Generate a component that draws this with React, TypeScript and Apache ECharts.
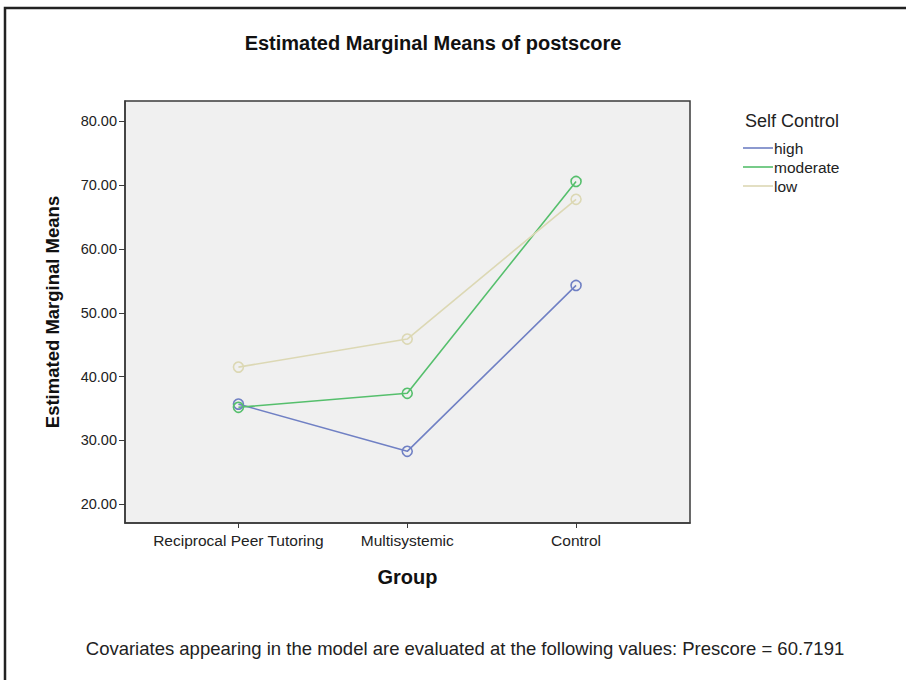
import React, { useEffect, useRef } from "react";
import * as echarts from "echarts";

const categories = ["Reciprocal Peer Tutoring", "Multisystemic", "Control"];
const seriesNames = ["high", "moderate", "low"];
const highValues = [35.7, 28.3, 54.3];
const moderateValues = [35.2, 37.4, 70.6];
const lowValues = [41.5, 45.9, 67.8];
const yTicks = [20, 30, 40, 50, 60, 70, 80];
const colors = ["#7080c4", "#55bf6c", "#dcd8b4"];

export default function App() {
  const ref = useRef<HTMLDivElement>(null);
  useEffect(() => {
    if (!ref.current) return;
    const chart = echarts.init(ref.current, undefined, { renderer: "svg" });
    const font = "Liberation Sans, Arial, sans-serif";
    const all = [highValues, moderateValues, lowValues];
    chart.setOption({
      animation: false,
      backgroundColor: "#ffffff",
      textStyle: { fontFamily: font },
      grid: {
        left: 125,
        top: 101,
        right: 216,
        bottom: 157,
        show: true,
        backgroundColor: "#f0f0f0",
        borderColor: "#3a3a3a",
        borderWidth: 1.5,
      },
      xAxis: {
        type: "value",
        min: -0.672,
        max: 2.675,
        splitLine: { show: false },
        axisLine: { show: true, onZero: false, lineStyle: { color: "#3a3a3a", width: 1.5 } },
        axisTick: { show: true, customValues: [0, 1, 2], length: 5, lineStyle: { color: "#3a3a3a" } },
        axisLabel: {
          customValues: [0, 1, 2],
          formatter: (v: number) => categories[Math.round(v)] ?? "",
          color: "#222",
          fontSize: 15.5,
          fontFamily: font,
          margin: 9,
        },
        name: "Group",
        nameLocation: "middle",
        nameGap: 44,
        nameTextStyle: { fontSize: 20, fontWeight: "bold", color: "#111", fontFamily: font },
      },
      yAxis: {
        type: "value",
        min: 17.07,
        max: 83.2,
        splitLine: { show: false },
        axisLine: { show: true, onZero: false, lineStyle: { color: "#3a3a3a", width: 1.5 } },
        axisTick: { show: true, customValues: yTicks, length: 6, lineStyle: { color: "#3a3a3a" } },
        axisLabel: {
          customValues: yTicks,
          formatter: (v: number) => v.toFixed(2),
          color: "#222",
          fontSize: 14.5,
          fontFamily: font,
          margin: 8,
        },
        name: "Estimated Marginal Means",
        nameLocation: "middle",
        nameGap: 63,
        nameRotate: 90,
        nameTextStyle: { fontSize: 18.5, fontWeight: "bold", color: "#111", fontFamily: font },
      },
      legend: {
        orient: "vertical",
        left: 738,
        top: 135,
        itemWidth: 30,
        itemHeight: 1.6,
        itemGap: 3,
        icon: "rect",
        textStyle: { fontSize: 15.5, color: "#222", fontFamily: font, padding: [0, 0, 0, -4] },
        data: seriesNames.map((n, i) => ({
          name: n,
          itemStyle: { color: colors[i], borderWidth: 0, borderColor: "rgba(0,0,0,0)" },
        })),
      },
      graphic: [
        {
          type: "rect",
          shape: { x: 5, y: 8, width: 960, height: 720 },
          style: { fill: "none", stroke: "#222", lineWidth: 2.5 },
          silent: true,
        },
        {
          type: "text",
          x: 433,
          y: 43,
          style: {
            text: "Estimated Marginal Means of postscore",
            font: "bold 20px Liberation Sans, Arial, sans-serif",
            fill: "#111",
            textAlign: "center",
            textVerticalAlign: "middle",
          },
        },
        {
          type: "text",
          x: 745,
          y: 121,
          style: {
            text: "Self Control",
            font: "18px Liberation Sans, Arial, sans-serif",
            fill: "#222",
            textAlign: "left",
            textVerticalAlign: "middle",
          },
        },
        {
          type: "text",
          x: 465,
          y: 648,
          style: {
            text: "Covariates appearing in the model are evaluated at the following values: Prescore = 60.7191",
            font: "18.5px Liberation Sans, Arial, sans-serif",
            fill: "#222",
            textAlign: "center",
            textVerticalAlign: "middle",
          },
        },
      ],
      series: seriesNames.map((n, i) => ({
        name: n,
        type: "line",
        data: all[i].map((v, j) => [j, v]),
        symbol: "circle",
        symbolSize: 10,
        color: colors[i],
        lineStyle: { color: colors[i], width: 1.6 },
        itemStyle: { color: "rgba(0,0,0,0)", borderColor: colors[i], borderWidth: 1.6 },
      })),
    });
    return () => chart.dispose();
  }, []);
  return (
    <div
      ref={ref}
      style={{ position: "absolute", left: 0, top: 0, width: 906, height: 680 }}
    />
  );
}
